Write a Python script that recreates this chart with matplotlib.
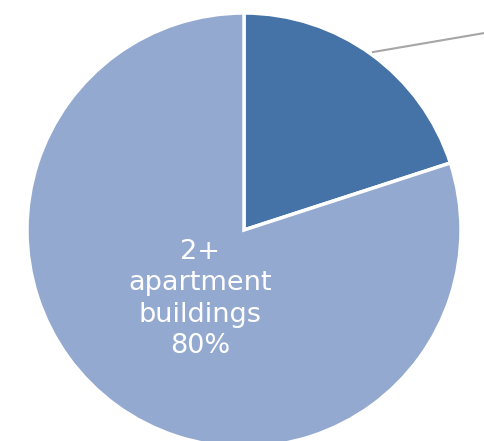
import matplotlib
matplotlib.use("Agg")
import matplotlib.pyplot as plt

categories = ["Single-family homes", "2+ apartment buildings"]
values = [20, 80]
colors = ["#4573A7", "#94A9CF"]

fig = plt.figure(figsize=(4.85, 4.41), dpi=100)
ax = fig.add_axes([27/485, -6/441, 434/485, 434/441])
wedges, _ = ax.pie(values, colors=colors, startangle=90, counterclock=False,
                   radius=1.0, wedgeprops=dict(edgecolor="white", linewidth=2.5))
ax.set_xlim(-1, 1)
ax.set_ylim(-1, 1)
ax.set_aspect("auto")
ax.axis("off")

ax.text(-0.203, -0.318, "2+\napartment\nbuildings\n%d%%" % values[1], ha="center", va="center",
        color="white", fontsize=19.5, family=["DejaVu Sans"], linespacing=1.27)

ax.plot([0.594, 1.25], [0.820, 0.932], color="#A6A6A6", linewidth=1.5, clip_on=False)

fig.savefig("out.png", dpi=100)
